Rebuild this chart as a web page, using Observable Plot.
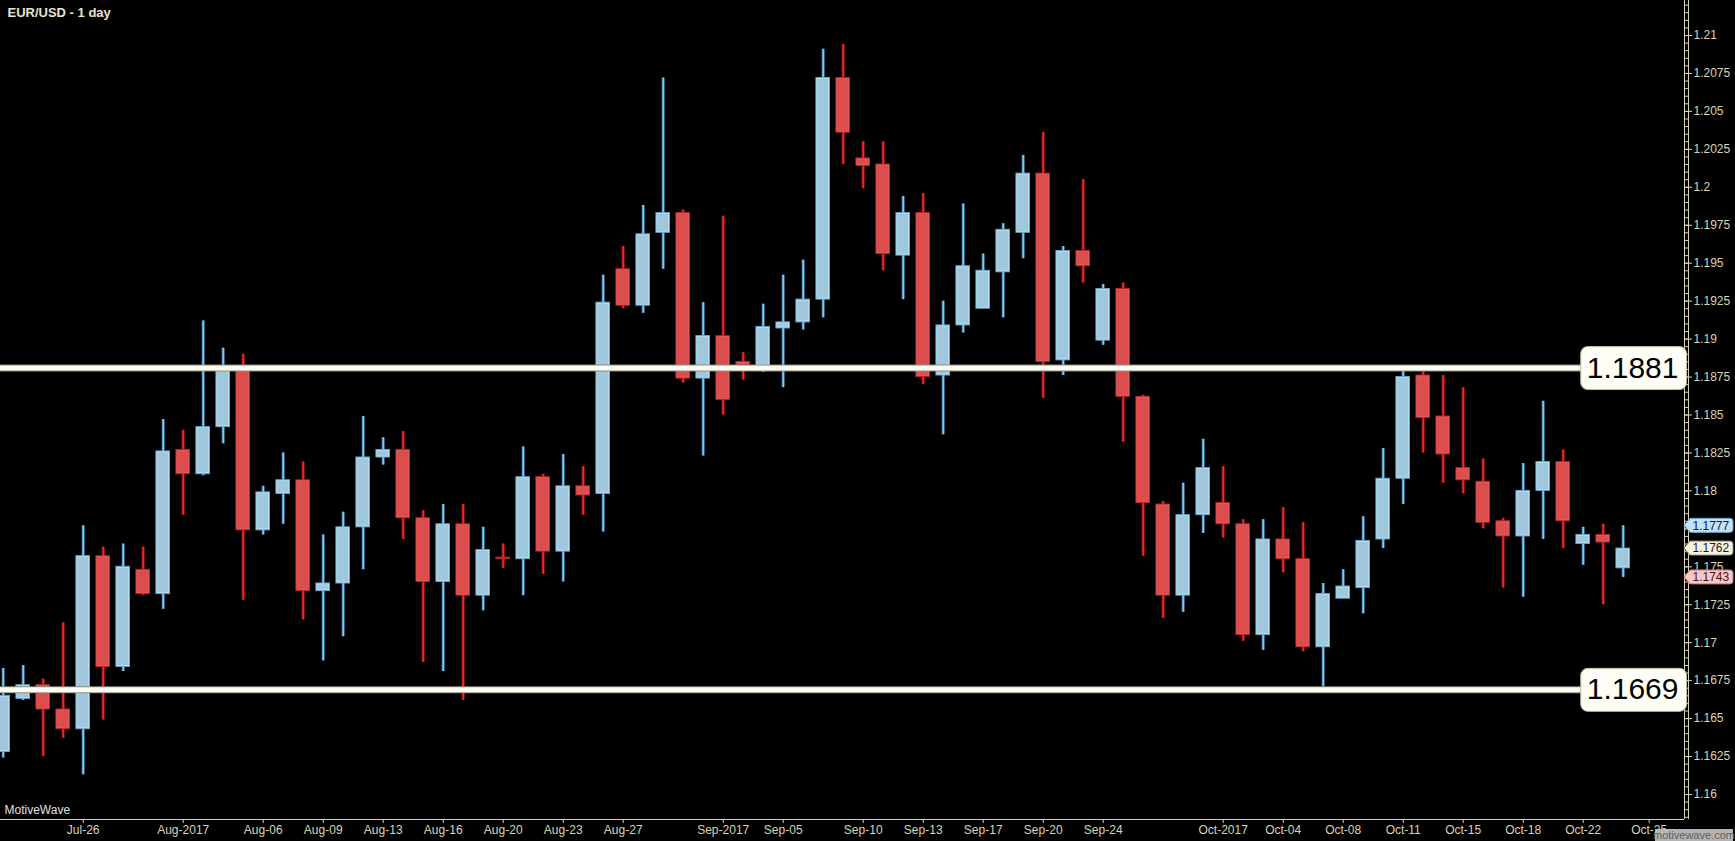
<!DOCTYPE html>
<html><head><meta charset="utf-8">
<script src="https://cdn.jsdelivr.net/npm/d3@7"></script>
<script src="https://cdn.jsdelivr.net/npm/@observablehq/plot@0.6"></script>
<style>html,body{margin:0;padding:0;background:#000;overflow:hidden}</style>
</head><body><div id="chart"></div>
<script>
// ---- data (EUR/USD daily) ----
const dates = ["2017-07-21","2017-07-23","2017-07-24","2017-07-25","2017-07-26","2017-07-27","2017-07-28","2017-07-30","2017-07-31","2017-08-01",
"2017-08-02","2017-08-03","2017-08-04","2017-08-06","2017-08-07","2017-08-08","2017-08-09","2017-08-10","2017-08-11","2017-08-13",
"2017-08-14","2017-08-15","2017-08-16","2017-08-17","2017-08-18","2017-08-20","2017-08-21","2017-08-22","2017-08-23","2017-08-24",
"2017-08-25","2017-08-27","2017-08-28","2017-08-29","2017-08-30","2017-08-31","2017-09-01","2017-09-03","2017-09-04","2017-09-05",
"2017-09-06","2017-09-07","2017-09-08","2017-09-10","2017-09-11","2017-09-12","2017-09-13","2017-09-14","2017-09-15","2017-09-17",
"2017-09-18","2017-09-19","2017-09-20","2017-09-21","2017-09-22","2017-09-24","2017-09-25","2017-09-26","2017-09-27","2017-09-28",
"2017-09-29","2017-10-01","2017-10-02","2017-10-03","2017-10-04","2017-10-05","2017-10-06","2017-10-08","2017-10-09","2017-10-10",
"2017-10-11","2017-10-12","2017-10-13","2017-10-15","2017-10-16","2017-10-17","2017-10-18","2017-10-19","2017-10-20","2017-10-22",
"2017-10-23","2017-10-24"];
const open = [1.1628,1.1663,1.1672,1.1656,1.1643,1.1757,1.1684,1.1748,1.1732,1.1827,
1.1811,1.1842,1.1881,1.1774,1.1798,1.1807,1.1734,1.1739,1.1776,1.1822,
1.1827,1.1782,1.1740,1.1778,1.1731,1.1756,1.1755,1.1809,1.1760,1.1803,
1.1798,1.1946,1.1922,1.1970,1.1983,1.1874,1.1902,1.1885,1.1882,1.1907,
1.1911,1.1926,1.2072,1.2019,1.2015,1.1955,1.1983,1.1876,1.1909,1.1920,
1.1944,1.1970,1.2009,1.1886,1.1958,1.1899,1.1933,1.1862,1.1791,1.1731,
1.1784,1.1792,1.1778,1.1705,1.1768,1.1755,1.1697,1.1729,1.1736,1.1768,
1.1808,1.1876,1.1849,1.1815,1.1806,1.1780,1.1770,1.1800,1.1819,1.1765,
1.1771,1.1749];
const high = [1.1683,1.1685,1.1676,1.1713,1.1777,1.1763,1.1765,1.1763,1.1847,1.1840,
1.1912,1.1894,1.1890,1.1803,1.1825,1.1819,1.1771,1.1786,1.1849,1.1835,
1.1839,1.1787,1.1791,1.1791,1.1776,1.1765,1.1829,1.1811,1.1824,1.1816,
1.1942,1.1961,1.1988,1.2072,1.1985,1.1924,1.1981,1.1891,1.1923,1.1942,
1.1952,1.2091,1.2094,1.2030,1.2030,1.1994,1.1996,1.1925,1.1989,1.1956,
1.1976,1.2021,1.2036,1.1961,1.2005,1.1936,1.1937,1.1863,1.1793,1.1805,
1.1834,1.1816,1.1781,1.1781,1.1789,1.1779,1.1739,1.1748,1.1783,1.1828,
1.1879,1.1879,1.1876,1.1868,1.1821,1.1782,1.1818,1.1859,1.1827,1.1776,
1.1778,1.1777];
const low = [1.1624,1.1662,1.1625,1.1637,1.1613,1.1649,1.1681,1.1731,1.1722,1.1784,
1.1810,1.1831,1.1728,1.1771,1.1778,1.1715,1.1688,1.1704,1.1748,1.1817,
1.1768,1.1687,1.1681,1.1662,1.1721,1.1749,1.1731,1.1745,1.1740,1.1784,
1.1773,1.1920,1.1917,1.1946,1.1871,1.1823,1.1850,1.1873,1.1878,1.1868,
1.1906,1.1914,1.2015,1.1999,1.1945,1.1926,1.1870,1.1837,1.1904,1.1920,
1.1914,1.1953,1.1861,1.1876,1.1937,1.1896,1.1832,1.1757,1.1716,1.1720,
1.1772,1.1769,1.1701,1.1695,1.1746,1.1694,1.1671,1.1729,1.1719,1.1762,
1.1791,1.1825,1.1805,1.1798,1.1775,1.1736,1.1730,1.1768,1.1762,1.1751,
1.1725,1.1743];
const close = [1.1665,1.1672,1.1656,1.1643,1.1757,1.1684,1.1750,1.1732,1.1826,1.1811,
1.1842,1.1881,1.1774,1.1799,1.1807,1.1734,1.1739,1.1776,1.1822,1.1827,
1.1782,1.1740,1.1778,1.1731,1.1761,1.1755,1.1809,1.1760,1.1803,1.1797,
1.1924,1.1922,1.1969,1.1983,1.1874,1.1902,1.1860,1.1883,1.1908,1.1911,
1.1926,1.2072,1.2036,1.2014,1.1956,1.1983,1.1875,1.1909,1.1948,1.1945,
1.1972,1.2009,1.1885,1.1958,1.1948,1.1933,1.1862,1.1792,1.1731,1.1784,
1.1815,1.1778,1.1705,1.1768,1.1755,1.1697,1.1732,1.1737,1.1767,1.1808,
1.1875,1.1848,1.1824,1.1807,1.1779,1.1770,1.1800,1.1819,1.1780,1.1771,
1.1766,1.1762];
const levels = [1.1881, 1.1669];
const tickIdx = [4,9,13,16,19,22,25,28,31,36,39,43,46,49,52,55,61,64,67,70,73,76,79,82.3];
const tickLabels = ["Jul-26","Aug-2017","Aug-06","Aug-09","Aug-13","Aug-16","Aug-20","Aug-23","Aug-27","Sep-2017","Sep-05","Sep-10",
"Sep-13","Sep-17","Sep-20","Sep-24","Oct-2017","Oct-04","Oct-08","Oct-11","Oct-15","Oct-18","Oct-22","Oct-25"];
const yTicks = [1.16,1.1625,1.165,1.1675,1.17,1.1725,1.175,1.1775,1.18,1.1825,1.185,1.1875,1.19,1.1925,1.195,1.1975,1.2,1.2025,1.205,1.2075,1.21];
const title = "EUR/USD - 1 day";

// ---- build table ----
const bars = dates.map((d, i) => ({i, date: d, open: open[i], high: high[i], low: low[i], close: close[i], up: close[i] >= open[i]}));
const last = bars[bars.length - 1];
const tags = [
  {v: last.high, fill: "#c4e2f5", stroke: "#5f9fca", text: "#0e2038"},
  {v: last.close, fill: "#f5f1dc", stroke: "#8a8878", text: "#1c1c1c"},
  {v: last.low, fill: "#f7c6c6", stroke: "#cf6a6a", text: "#4a1010"}
];
const minorTicks = d3.range(1.1585, 1.2125, 0.0005);
const levelText = levels.map(d => d.toFixed(4));

const AXIS = "#d8d4b6";
const X0 = -0.135, X1 = 84.065, Y0 = 1.158353, Y1 = 1.212306;
const HW = 0.34;

const plot = Plot.plot({
  width: 1735, height: 841,
  marginLeft: 0, marginRight: 51, marginTop: 0, marginBottom: 22,
  x: {type: "linear", domain: [X0, X1], axis: null},
  y: {type: "linear", domain: [Y0, Y1], axis: null},
  style: {background: "#000", color: AXIS, fontFamily: "'Liberation Sans', Arial, sans-serif", fontSize: "12px", overflow: "visible"},
  marks: [
    // wicks
    Plot.ruleX(bars, {x: "i", y1: "low", y2: "high", stroke: d => d.up ? "#3d7dab" : "#a01414", strokeWidth: 3}),
    Plot.ruleX(bars, {x: "i", y1: "low", y2: "high", stroke: d => d.up ? "#8dd0f2" : "#ff2626", strokeWidth: 1.4}),
    // bodies
    Plot.rect(bars, {x1: d => d.i - HW, x2: d => d.i + HW, y1: "open", y2: "close",
      fill: d => d.up ? "#a0c7dc" : "#dc4e4e", stroke: d => d.up ? "#6aa3c4" : "#b32626", strokeWidth: 1}),
    Plot.rect(bars, {x1: d => d.i - HW, x2: d => d.i + HW, y1: "open", y2: "close", insetLeft: 1, insetRight: 1, insetTop: 1, insetBottom: 1,
      fill: "none", stroke: d => d.up ? "#c2eefc" : "#e86262", strokeWidth: 0.8, strokeOpacity: 0.7}),
    // support / resistance lines
    Plot.ruleY(levels, {stroke: "#8e8c80", strokeWidth: 7}),
    Plot.ruleY(levels, {stroke: "#fffdf2", strokeWidth: 5}),
    // axes
    Plot.ruleX([X1], {stroke: AXIS}),
    Plot.ruleX([X1], {stroke: AXIS, dx: 4}),
    Plot.ruleY([Y0], {stroke: AXIS}),
    Plot.axisY(minorTicks, {anchor: "right", tickSize: 4, tickFormat: () => "", stroke: AXIS}),
    Plot.axisY(yTicks, {anchor: "right", tickSize: 7, tickPadding: 2, tickFormat: d => String(+d.toFixed(4)), fill: AXIS, stroke: AXIS, fontSize: 12}),
    Plot.axisX(tickIdx, {anchor: "bottom", tickSize: 4, tickPadding: 2, tickFormat: d => tickLabels[tickIdx.indexOf(d)], fill: AXIS, stroke: AXIS, fontSize: 12}),
    // level labels
    Plot.text(levels, {frameAnchor: "right", y: d => d, text: d => d.toFixed(4), textAnchor: "end", dx: -6, fontSize: 30, fill: "#000"}),
    // texts
    Plot.text([title], {frameAnchor: "top-left", dx: 7, dy: 12, textAnchor: "start", lineAnchor: "middle", fontSize: 13, fontWeight: "bold", fill: "#e8e4d0"}),
    Plot.text(["MotiveWave"], {frameAnchor: "bottom-left", dx: 4, dy: -9, textAnchor: "start", lineAnchor: "middle", fontSize: 12, fill: "#e2e2e2"})
  ]
});
document.getElementById("chart").appendChild(plot);

// ---- decorations tied to the scales ----
const svg = d3.select(plot);
const sy = plot.scale("y"), sx = plot.scale("x");
// rounded boxes behind level labels
svg.selectAll("text").filter(function() { return levelText.includes(this.textContent); }).each(function() {
  const b = this.getBBox();
  const cy = b.y + b.height / 2 + 1;
  d3.select(this.parentNode).insert("rect", () => this)
    .attr("transform", this.getAttribute("transform"))
    .attr("x", b.x - 6).attr("y", cy - 21.5).attr("width", b.width + 14).attr("height", 43)
    .attr("rx", 7).attr("fill", "#fffef6").attr("stroke", "#bcb8a4").attr("stroke-width", 1);
});
// price tags at the right axis (high / close / low of the last bar)
const ax = sx.apply(X1);
const tg = svg.append("g").attr("font-family", "'Liberation Sans', Arial, sans-serif").attr("text-anchor", "start");
tags.forEach(t => {
  const y = sy.apply(t.v);
  const h = 7, w = 49;
  tg.append("path")
    .attr("d", `M${ax},${y} L${ax + 6},${y - h} L${ax + w - 3},${y - h} Q${ax + w},${y - h} ${ax + w},${y - h + 3} L${ax + w},${y + h - 3} Q${ax + w},${y + h} ${ax + w - 3},${y + h} L${ax + 6},${y + h} Z`)
    .attr("fill", t.fill).attr("stroke", t.stroke).attr("stroke-width", 1);
  tg.append("text").attr("x", ax + 8.5).attr("y", y).attr("dy", "0.35em").attr("text-anchor", "start")
    .attr("font-size", 12).attr("fill", t.text).text(t.v.toFixed(4));
});
// watermark
const W = 1735, H = 841;
svg.append("rect").attr("x", W - 80).attr("y", H - 12).attr("width", 78).attr("height", 12).attr("fill", "#c6c6c6").attr("opacity", 0.9);
svg.append("text").attr("x", W - 41).attr("y", H - 2.5).attr("text-anchor", "middle").attr("font-size", 11).attr("fill", "#5e5e5e").text("motivewave.com");
</script>
</body></html>
